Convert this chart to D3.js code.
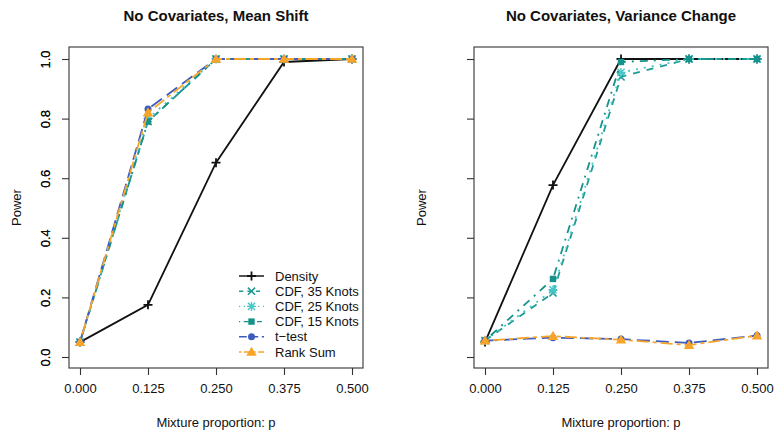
<!DOCTYPE html>
<html><head><meta charset="utf-8">
<script src="https://cdn.jsdelivr.net/npm/d3@7"></script>
<style>body{margin:0;background:#fff}svg text{font-family:"Liberation Sans",Arial,Helvetica,sans-serif;fill:#111}</style>
</head><body><svg id="c" width="775" height="435"></svg>
<script>
const xValues = [0, 0.125, 0.25, 0.375, 0.5];
const xTickLabels = ["0.000", "0.125", "0.250", "0.375", "0.500"];
const yTicks = [0, 0.2, 0.4, 0.6, 0.8, 1.0];
const seriesNames = ["Density", "CDF, 35 Knots", "CDF, 25 Knots", "CDF, 15 Knots", "t\u2212test", "Rank Sum"];
const panelTitles = ["No Covariates, Mean Shift", "No Covariates, Variance Change"];
// Mean shift panel
const meanDensity = [0.05, 0.175, 0.652, 0.99, 1.0];
const meanCdf35   = [0.05, 0.79, 1.0, 1.0, 1.0];
const meanCdf25   = [0.05, 0.80, 1.0, 1.0, 1.0];
const meanCdf15   = [0.05, 0.79, 1.0, 1.0, 1.0];
const meanTtest   = [0.05, 0.832, 1.0, 1.0, 1.0];
const meanRank    = [0.05, 0.82, 1.0, 1.0, 1.0];
// Variance change panel
const varDensity = [0.05, 0.577, 1.0, 1.0, 1.0];
const varCdf35   = [0.055, 0.215, 0.94, 1.0, 1.0];
const varCdf25   = [0.055, 0.225, 0.955, 1.0, 1.0];
const varCdf15   = [0.055, 0.262, 0.99, 1.0, 1.0];
const varTtest   = [0.055, 0.065, 0.06, 0.047, 0.072];
const varRank    = [0.055, 0.07, 0.058, 0.04, 0.072];

const colors = ["#111111", "#1e9a94", "#45c6c6", "#15928a", "#3d5cbf", "#f7a52a"];
const lw = 1.8;
const dashes = [null, "7,7", "2,6", "2,6,8,6", "13,6", "4,4,12,4"];
const shapes = ["plus", "cross", "star", "square", "circle", "triangle"];

const svg = d3.select("#c");
const panels = [
  {x0: 69, x1: 363, r0: 80, r1: 352, data: [meanDensity, meanCdf35, meanCdf25, meanCdf15, meanTtest, meanRank], legend: true},
  {x0: 474, x1: 768, r0: 485, r1: 757, data: [varDensity, varCdf35, varCdf25, varCdf15, varTtest, varRank], legend: false}
];
const boxTop = 47, boxBottom = 368;
const y = d3.scaleLinear().domain([0, 1]).range([357, 59]);

function marker(g, shape, cx, cy, color) {
  const s = 4.5;
  if (shape === "plus") {
    g.append("path").attr("d", `M${cx-s},${cy}H${cx+s}M${cx},${cy-s}V${cy+s}`).attr("stroke", color).attr("stroke-width", 1.8).attr("fill", "none");
  } else if (shape === "cross") {
    const t = 3.6;
    g.append("path").attr("d", `M${cx-t},${cy-t}L${cx+t},${cy+t}M${cx-t},${cy+t}L${cx+t},${cy-t}`).attr("stroke", color).attr("stroke-width", 1.6).attr("fill", "none");
  } else if (shape === "star") {
    const t = 3.6;
    g.append("path").attr("d", `M${cx-s},${cy}H${cx+s}M${cx},${cy-s}V${cy+s}M${cx-t},${cy-t}L${cx+t},${cy+t}M${cx-t},${cy+t}L${cx+t},${cy-t}`).attr("stroke", color).attr("stroke-width", 1.4).attr("fill", "none");
  } else if (shape === "square") {
    g.append("rect").attr("x", cx-3.2).attr("y", cy-3.2).attr("width", 6.4).attr("height", 6.4).attr("fill", color);
  } else if (shape === "circle") {
    g.append("circle").attr("cx", cx).attr("cy", cy).attr("r", 3.5).attr("fill", color);
  } else if (shape === "triangle") {
    g.append("path").attr("d", d3.symbol(d3.symbolTriangle, 48)()).attr("transform", `translate(${cx},${cy+0.8})`).attr("fill", color);
  }
}

panels.forEach((p, pi) => {
  const x = d3.scaleLinear().domain([0, 0.5]).range([p.r0, p.r1]);
  const g = svg.append("g");
  const cx = (p.x0 + p.x1) / 2;
  g.append("text").attr("x", cx).attr("y", 21).attr("text-anchor", "middle")
    .style("font-size", "15px").style("font-weight", "bold").text(panelTitles[pi]);
  const line = d3.line().x((d, i) => x(xValues[i])).y(d => y(d));
  p.data.forEach((vals, si) => {
    g.append("path").datum(vals).attr("d", line).attr("fill", "none")
      .attr("stroke", colors[si]).attr("stroke-width", lw)
      .attr("stroke-dasharray", dashes[si]);
    vals.forEach((v, i) => marker(g, shapes[si], x(xValues[i]), y(v), colors[si]));
  });
  g.append("rect").attr("x", p.x0).attr("y", boxTop).attr("width", p.x1 - p.x0).attr("height", boxBottom - boxTop)
    .attr("fill", "none").attr("stroke", "#444").attr("stroke-width", 1.2);
  const xa = g.append("g").attr("transform", `translate(0,${boxBottom})`)
    .call(d3.axisBottom(x).tickValues(xValues).tickFormat((d, i) => xTickLabels[i]).tickSize(7).tickPadding(9));
  xa.select(".domain").remove();
  xa.selectAll("line").attr("stroke", "#333").attr("stroke-width", 1.1);
  xa.selectAll("text").style("font-size", "13px").attr("fill", "#111");
  g.append("text").attr("x", cx).attr("y", 427).attr("text-anchor", "middle").style("font-size", "13px").text("Mixture proportion: p");
  const ya = g.append("g").attr("transform", `translate(${p.x0},0)`)
    .call(d3.axisLeft(y).tickValues(yTicks).tickFormat(d3.format(".1f")).tickSize(7).tickPadding(9));
  ya.select(".domain").remove();
  ya.selectAll("line").attr("stroke", "#333").attr("stroke-width", 1.1);
  ya.selectAll("text").style("font-size", "13px").attr("fill", "#111")
    .attr("text-anchor", "middle").attr("x", 0).attr("y", 0).attr("dy", "0.35em")
    .attr("transform", `translate(${45 - p.x0},0) rotate(-90)`);
  g.append("text").attr("transform", `translate(${p.x0 - 53},${(boxTop + boxBottom) / 2}) rotate(-90)`)
    .attr("text-anchor", "middle").attr("dy", "0.35em").style("font-size", "13px").text("Power");
  if (p.legend) {
    const lg = g.append("g");
    seriesNames.forEach((name, si) => {
      const ly = 276 + si * 15.2;
      lg.append("line").attr("x1", 239).attr("x2", 264).attr("y1", ly).attr("y2", ly)
        .attr("stroke", colors[si]).attr("stroke-width", lw * 0.8).attr("stroke-dasharray", dashes[si] ? dashes[si].split(",").map(v => v * 0.6).join(",") : null);
      marker(lg, shapes[si], 251.5, ly, colors[si]);
      lg.append("text").attr("x", 275).attr("y", ly).attr("dy", "0.35em").style("font-size", "13px").text(name);
    });
  }
});
</script></body></html>
